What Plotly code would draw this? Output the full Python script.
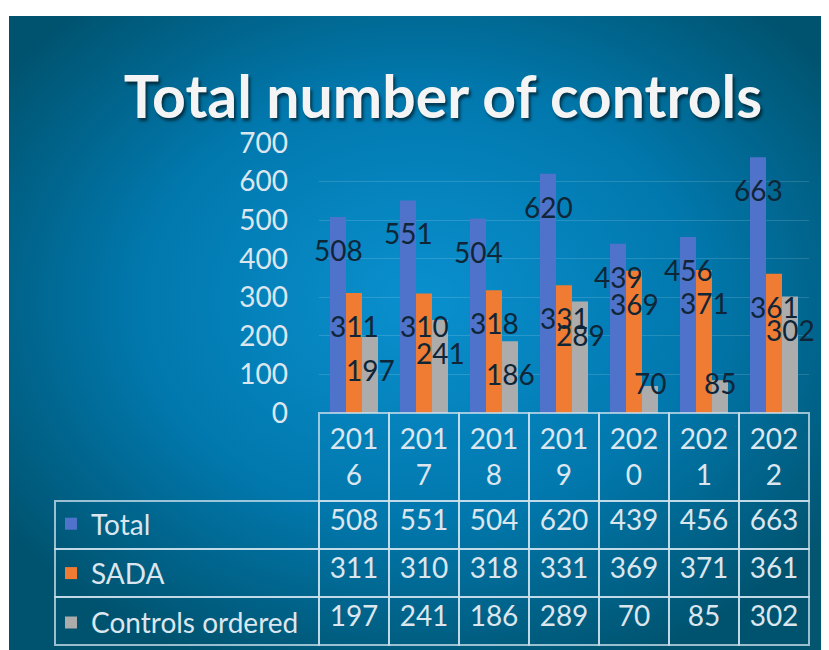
import base64
import plotly.graph_objects as go

# --- data ---
years = ["2016", "2017", "2018", "2019", "2020", "2021", "2022"]
total = [508, 551, 504, 620, 439, 456, 663]
sada = [311, 310, 318, 331, 369, 371, 361]
ordered = [197, 241, 186, 289, 70, 85, 302]
series_names = ["Total", "SADA", "Controls ordered"]
y_ticks = [0, 100, 200, 300, 400, 500, 600, 700]

# --- style ---
# page body has an 8px margin: positions below are page pixels, converted with px()/py()
OFF = 8
W, H = 829 - OFF, 650 - OFF


def px(x):
    return (x - OFF) / W


def py(y):
    return 1 - (y - OFF) / H


colors = ["#4f72cb", "#f07b32", "#acacac"]
label_color = "#0e2638"
light = "#dce6ee"
grid = "rgba(205,225,238,0.75)"
font_family = "Lato, 'Open Sans', sans-serif"

plot_top, plot_bottom = 143, 413
plot_left, plot_right = 319, 809
px_per_unit = (plot_bottom - plot_top) / y_ticks[-1]

# radial gradient background as svg image
svg = """<svg xmlns='http://www.w3.org/2000/svg' width='820' height='634' viewBox='0 0 820 634' preserveAspectRatio='none'>
<defs><radialGradient id='g' cx='50%' cy='45%' r='62%'>
<stop offset='0%' stop-color='#0a90cf'/>
<stop offset='55%' stop-color='#0178ad'/>
<stop offset='100%' stop-color='#00536f'/>
</radialGradient></defs>
<rect width='820' height='634' fill='url(#g)'/></svg>"""
bg_src = "data:image/svg+xml;base64," + base64.b64encode(svg.encode()).decode()

series = [total, sada, ordered]

fig = go.Figure()
for name, vals, col in zip(series_names, series, colors):
    fig.add_trace(go.Bar(x=years, y=vals, name=name, marker_color=col,
                         marker_line_width=0, legendgroup=name,
                         hoverinfo="x+y+name"))

# data labels (excel "inside end" style); x given as category index
annotations = []
for k, vals in enumerate(series):
    for i, v in enumerate(vals):
        shift = max(-33, 30 - v * px_per_unit)
        annotations.append(dict(x=i, y=v, xref="x", yref="y", text=str(v),
                                showarrow=False, xshift=(k - 1) * 16, yshift=shift,
                                yanchor="middle",
                                font=dict(family=font_family, size=28, color=label_color)))

# data table under the chart (legend keys sit in its first column)
header_vals = [""] + [y[:3] + "<br>\u2007" + y[3:] for y in years]
cell_vals = [[""] * len(series_names)] + [[t, s, o] for t, s, o in zip(total, sada, ordered)]

fig.add_trace(go.Table(
    domain=dict(x=[px(55), px(plot_right)], y=[0, py(plot_bottom)]),
    columnwidth=[264] + [70] * len(years),
    header=dict(values=header_vals, height=88, align="center",
                fill_color="rgba(0,0,0,0)",
                line=dict(color=["rgba(0,0,0,0)"] + [grid] * len(years), width=1.5),
                font=dict(family=font_family, size=28, color=light)),
    cells=dict(values=cell_vals, height=48, align="center",
               fill_color="rgba(0,0,0,0)",
               line=dict(color=grid, width=1.5),
               font=dict(family=font_family, size=28, color=light)),
))

fig.update_layout(
    width=W, height=H,
    margin=dict(l=0, r=0, t=0, b=0, autoexpand=False),
    paper_bgcolor="white",
    plot_bgcolor="rgba(0,0,0,0)",
    barmode="group",
    bargap=0.314,
    bargroupgap=0,
    title=dict(text="<b>Total number of controls</b>", x=px(443), xanchor="center",
               y=py(97), yanchor="middle",
               font=dict(family=font_family, size=59, color="#f4f4f4",
                         shadow="2px 3px 3px rgba(0,0,0,0.55)")),
    showlegend=True,
    legend=dict(x=px(51), xanchor="left", y=py(499), yanchor="top",
                orientation="v", traceorder="grouped", tracegroupgap=10,
                bgcolor="rgba(0,0,0,0)", borderwidth=0,
                font=dict(family=font_family, size=28, color=light)),
    xaxis=dict(type="category", domain=[px(plot_left), px(plot_right)],
               range=[-0.5, len(years) - 0.5], autorange=False,
               showticklabels=False, showgrid=False, zeroline=False, showline=False),
    yaxis=dict(domain=[py(plot_bottom), py(plot_top)],
               range=[0, y_ticks[-1]], tickvals=y_ticks,
               showgrid=True, gridcolor="rgba(255,255,255,0.14)", gridwidth=1,
               zeroline=False, showline=False, ticks="", ticklabelstandoff=30,
               tickfont=dict(family=font_family, size=28, color=light)),
    annotations=annotations,
    images=[dict(source=bg_src, xref="paper", yref="paper", x=px(9), y=py(16),
                 sizex=1 - px(9), sizey=py(16), sizing="stretch",
                 xanchor="left", yanchor="top", layer="below")],
)

fig.write_html("out.html")
